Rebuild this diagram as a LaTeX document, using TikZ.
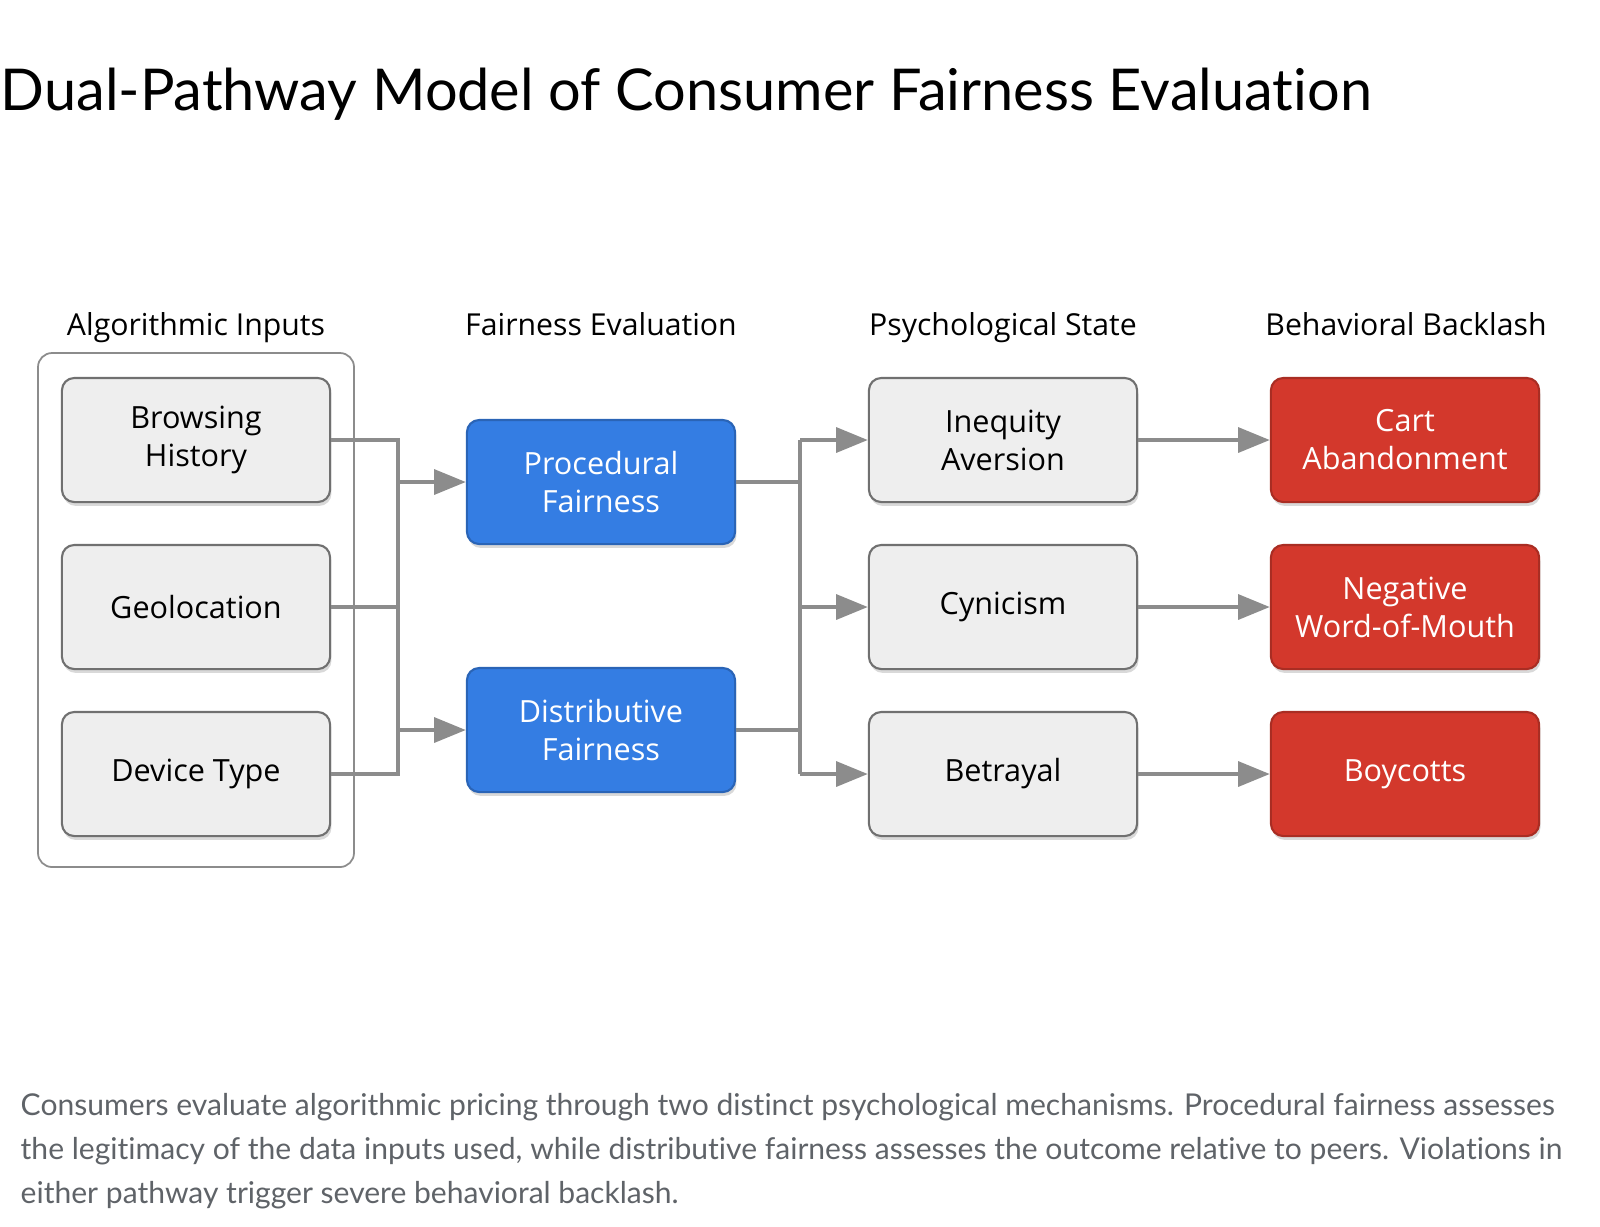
\documentclass[tikz,border=0pt]{standalone}
\usepackage{fontspec}
\setmainfont{Open Sans}
\newfontfamily\capfont[Ligatures=NoCommon]{Lato}
\usepackage{xcolor}
\usepackage{tikz}
\usetikzlibrary{arrows.meta, positioning, shadows}

\definecolor{boxgray}{HTML}{EEEEEE}
\definecolor{boxline}{HTML}{707070}
\definecolor{linegray}{HTML}{8C8C8C}
\definecolor{evalblue}{HTML}{347DE3}
\definecolor{backred}{HTML}{D3382C}
\definecolor{captext}{HTML}{5F6368}

\tikzset{
  card/.style={rounded corners=3.5pt, minimum width=2.68cm, minimum height=1.24cm,
    align=center, line width=0.6pt, font=\fontsize{8.7pt}{10.8pt}\selectfont,
    drop shadow={opacity=0.3, shadow xshift=0.4pt, shadow yshift=-1.1pt}},
  graycard/.style={card, draw=boxline, fill=boxgray, text=black},
  bluecard/.style={card, draw=evalblue!80!black, fill=evalblue, text=white},
  redcard/.style={card, draw=backred!80!black, fill=backred, text=white},
  header/.style={anchor=base, font=\fontsize{8.6pt}{10pt}\selectfont},
  link/.style={draw=linegray, line width=1.2pt},
  arrow/.style={link, -{Triangle[length=9pt, width=7pt]}},
}

\begin{document}
\begin{tikzpicture}[x=0.01cm, y=-0.01cm]
        \useasboundingbox (0,0) rectangle (1600,1226);
        % Title
        \node[anchor=base west, inner sep=0pt, font=\capfont\fontsize{16.4pt}{20pt}\selectfont] (title) at (0,110)
            {Dual-Pathway Model of Consumer Fairness Evaluation};
        % Column headers
        \node[header] (hinputs) at (196,335) {Algorithmic Inputs};
        \node[header] (heval) at (601,335) {Fairness Evaluation};
        \node[header] (hstate) at (1003,335) {Psychological State};
        \node[header] (hback) at (1406,335) {Behavioral Backlash};
        % Group of inputs
        \draw[linegray, line width=0.5pt, rounded corners=4pt] (38,353) rectangle (354,867);
        % Inputs
        \node[graycard] (browse) at (196,440) {Browsing\\History};
        \node[graycard] (geo) at (196,607) {Geolocation};
        \node[graycard] (device) at (196,774) {Device Type};
        % Evaluation
        \node[bluecard] (proc) at (601,482) {Procedural\\Fairness};
        \node[bluecard] (dist) at (601,730) {Distributive\\Fairness};
        % States
        \node[graycard] (ineq) at (1003,440) {Inequity\\Aversion};
        \node[graycard] (cyn) at (1003,607) {Cynicism};
        \node[graycard] (betr) at (1003,774) {Betrayal};
        % Backlash
        \node[redcard] (cart) at (1405,440) {Cart\\Abandonment};
        \node[redcard] (wom) at (1405,607) {Negative\\Word-of-Mouth};
        \node[redcard] (boyc) at (1405,774) {Boycotts};
        % Buses
        \coordinate (busin) at (398,607);
        \coordinate (busout) at (800,607);
        \draw[link] (browse.east) -| (busin) |- (device.east);
        \draw[link] (geo.east) -- (busin);
        \draw[arrow] (proc.west -| busin) -- (proc.west);
        \draw[arrow] (dist.west -| busin) -- (dist.west);
        \draw[link] (ineq.west -| busout) -- (betr.west -| busout);
        \draw[link] (proc.east) -- (proc.east -| busout);
        \draw[link] (dist.east) -- (dist.east -| busout);
        \draw[arrow] (ineq.west -| busout) -- (ineq.west);
        \draw[arrow] (cyn.west -| busout) -- (cyn.west);
        \draw[arrow] (betr.west -| busout) -- (betr.west);
        % To backlash
        \draw[arrow] (ineq) -- (cart);
        \draw[arrow] (cyn) -- (wom);
        \draw[arrow] (betr) -- (boyc);
        % Caption
        \node[anchor=north west, inner sep=0pt, align=left, text=captext,
              font=\capfont\fontsize{8.55pt}{12.5pt}\selectfont] (caption) at (20,1093)
            {Consumers evaluate algorithmic pricing through two distinct psychological mechanisms. Procedural fairness assesses\\
             the legitimacy of the data inputs used, while distributive fairness assesses the outcome relative to peers. Violations in\\
             either pathway trigger severe behavioral backlash.};
\end{tikzpicture}
\end{document}
